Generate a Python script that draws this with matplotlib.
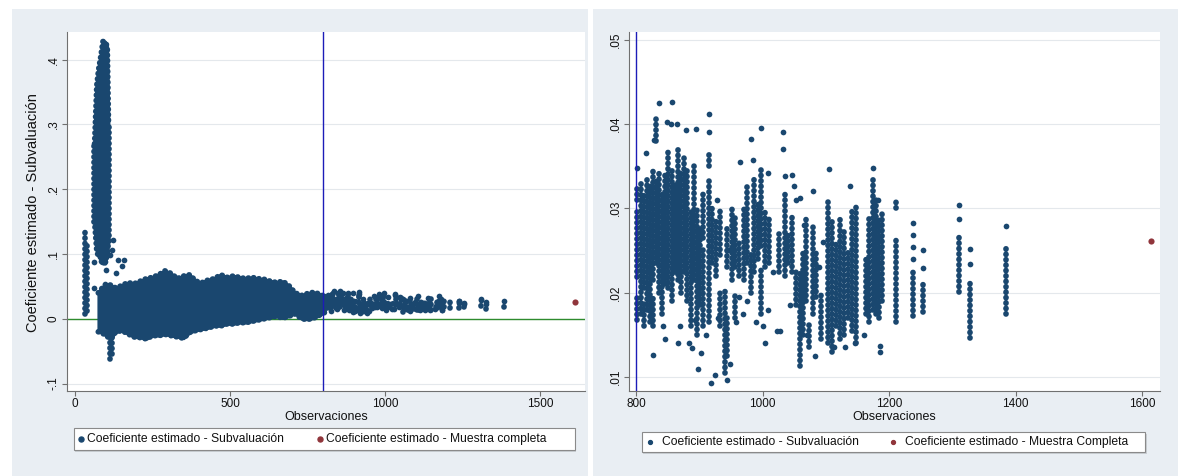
import numpy as np
import matplotlib
matplotlib.use("Agg")
import matplotlib.pyplot as plt
from matplotlib.patches import Rectangle
from matplotlib.lines import Line2D

plt.rcParams['font.family'] = ['Liberation Sans', 'DejaVu Sans']

# runs of estimates stacked at one sample size (obs, low coef, high coef)
col_x = [802, 802, 802, 807, 812, 812, 817, 822, 827, 827, 831, 831, 836, 841, 846, 851, 856, 861,
         866, 871, 876, 881, 886, 891, 896, 901, 906, 906, 916, 916, 920, 926, 932, 932, 940, 944, 944,
         951, 957, 957, 963, 970, 976, 981, 987, 993, 998, 998, 1004, 1010, 1026, 1035, 1040, 1047,
         1053, 1059, 1064, 1069, 1074, 1080, 1085, 1093, 1104, 1110, 1116, 1122, 1128, 1135, 1141,
         1148, 1163, 1168, 1174, 1179, 1184, 1189, 1211, 1211, 1237, 1254, 1310, 1327, 1384]
col_lo = [.0168, .0218, .0310, .0175, .0160, .0205, .0180, .0165, .0215, .0160, .0235, .0380, .0200, .0175,
          .0210, .0205, .0190, .0225, .0215, .0200, .0225, .0190, .0160, .0215, .0150, .0185, .0160, .0265,
          .0165, .0350, .0235, .0220, .0245, .0160, .0105, .0125, .0230, .0215, .0230, .0170, .0220, .0215,
          .0235, .0200, .0225, .0240, .0175, .0255, .0230, .0235, .0225, .0220, .0235, .0225, .0185, .0113,
          .0150, .0190, .0135, .0175, .0195, .0145, .0140, .0130, .0160, .0145, .0150, .0170, .0155, .0140,
          .0175, .0165, .0180, .0175, .0170, .0190, .0165, .0300, .0172, .0177, .0201, .0146, .0175]
col_hi = [.0200, .0296, .0326, .0330, .0190, .0320, .0335, .0330, .0345, .0195, .0335, .0410, .0345, .0320,
          .0340, .0370, .0345, .0330, .0375, .0345, .0365, .0345, .0300, .0355, .0300, .0280, .0250, .0320,
          .0335, .0365, .0300, .0285, .0300, .0200, .0205, .0170, .0280, .0300, .0290, .0200, .0260, .0300,
          .0330, .0250, .0340, .0310, .0230, .0350, .0300, .0290, .0270, .0318, .0270, .0290, .0225, .0227,
          .0250, .0290, .0165, .0280, .0250, .0200, .0310, .0290, .0260, .0290, .0275, .0250, .0300, .0305,
          .0240, .0290, .0340, .0310, .0290, .0295, .0265, .0312, .0226, .0210, .0266, .0216, .0258]

# loose single estimates
pt_x = [802, 815, 827, 829, 836, 843, 845, 849, 856, 855, 864, 866, 870, 879, 884, 889, 895, 898, 902,
        893, 910, 916, 916, 918, 924, 928, 930, 943, 948, 945, 958, 962, 964, 969, 975, 982, 985, 990,
        997, 1000, 1003, 1009, 1008, 1016, 1022, 1028, 1032, 1032, 1035, 1044, 1047, 1050, 1053, 1059,
        1066, 1070, 1080, 1082, 1089, 1095, 1105, 1113, 1130, 1138, 1146, 1160, 1175, 1182, 1185, 1185,
        1237, 1237, 1237, 1237, 1254, 1254, 1310, 1310, 1327, 1327, 1384]
pt_y = [.0348, .0366, .0126, .0381, .0425, .0160, .0145, .0402, .0426, .0400, .0400, .0140, .0160, .0393,
        .0140, .0134, .0394, .0110, .0128, .0168, .0150, .0390, .0412, .0093, .0102, .0310, .0170, .0096,
        .0115, .0250, .0165, .0195, .0355, .0175, .0190, .0382, .0357, .0165, .0395, .0160, .0140, .0342,
        .0180, .0225, .0155, .0155, .0390, .0370, .0338, .0185, .0340, .0326, .0310, .0312, .0280, .0150,
        .0320, .0125, .0230, .0260, .0346, .0135, .0135, .0326, .0140, .0150, .0348, .0310, .0137, .0130,
        .0282, .0268, .0254, .0240, .0250, .0229, .0304, .0287, .0252, .0234, .0279]

# dense cloud for small samples (left panel only): outline of the cloud
blob_x = [75, 85, 100, 115, 130, 150, 170, 190, 210, 230, 250, 270, 290, 310, 330, 350, 370, 390, 410,
          430, 450, 470, 490, 510, 530, 550, 570, 590, 610, 630, 650, 670, 690, 710, 730, 750, 770, 790, 806]
blob_top = [.040, .046, .054, .052, .048, .051, .056, .054, .058, .062, .064, .068, .074, .070, .062, .066,
            .068, .058, .056, .060, .062, .068, .064, .066, .064, .062, .064, .062, .061, .058, .056, .058,
            .051, .040, .036, .039, .041, .038, .034]
blob_bot = [-.020, -.021, -.026, -.031, -.021, -.018, -.023, -.028, -.029, -.031, -.026, -.026, -.024,
            -.026, -.028, -.030, -.021, -.018, -.016, -.014, -.011, -.011, -.008, -.008, -.006, -.006, -.004,
            -.002, .000, .002, .004, .001, .004, .008, .000, -.001, .001, .006, .010]

spike_x = [63, 70, 76, 83, 90, 97, 104, 108]
spike_top = [.27, .36, .385, .405, .428, .428, .420, .30]
spike_bot = [.15, .105, .095, .095, .085, .085, .100, .12]

small_x = [32, 39, 62, 108, 112, 118]
small_lo = [.008, .012, .15, .12, -.062, -.055]
small_hi = [.136, .120, .27, .30, -.020, -.025]
small_pt_x = [60, 62, 85, 100, 101, 112, 120, 121, 132, 140, 153, 158]
small_pt_y = [.047, .088, .090, .095, .075, .098, .106, .121, .070, .091, .081, .091]

full_x = [1614]
full_y = [.0261]
cutoff = 800

left_yticks = [-.1, 0, .1, .2, .3, .4]
left_ylabels = ['-.1', '0', '.1', '.2', '.3', '.4']
left_xticks = [0, 500, 1000, 1500]
right_yticks = [.01, .02, .03, .04, .05]
right_ylabels = ['.01', '.02', '.03', '.04', '.05']
right_xticks = [800, 1000, 1200, 1400, 1600]

navy = '#1a476f'
maroon = '#90353b'
W, H = 1178, 476
dot = 4.1          # marker diameter in points
beads = (0, (0.05, 0.9))   # round dashes that look like stacked markers

fig = plt.figure(figsize=(W / 100, H / 100), dpi=100)
fig.patch.set_facecolor('white')

# grey panel backgrounds
fig.add_artist(Rectangle((12 / W, 0), (588 - 12) / W, 1 - 9 / H, transform=fig.transFigure,
                         fc='#e9eef3', ec='none', zorder=-5))
fig.add_artist(Rectangle((593 / W, 0), (W - 593) / W, 1 - 9 / H, transform=fig.transFigure,
                         fc='#e9eef3', ec='none', zorder=-5))

axL = fig.add_axes([67 / W, 1 - 391 / H, (585 - 67) / W, (391 - 32) / H])
axR = fig.add_axes([629 / W, 1 - 391 / H, (1160 - 629) / W, (391 - 32) / H])

for ax in [axL, axR]:
    ax.set_facecolor('white')
    ax.spines['top'].set_visible(False)
    ax.spines['right'].set_visible(False)
    for s in ['left', 'bottom']:
        ax.spines[s].set_color('#707070')
        ax.spines[s].set_linewidth(0.8)
    ax.tick_params(direction='out', length=3.6, width=0.8, color='#707070', labelsize=8.5, pad=1.5,
                   labelcolor='#111111')
    ax.yaxis.grid(True, color='#e4e8ec', lw=0.8)
    ax.set_axisbelow(True)
    # runs and loose points
    ax.vlines(col_x, col_lo, col_hi, colors=navy, lw=dot, linestyles=[beads], capstyle='round', zorder=3)
    ax.scatter(pt_x, pt_y, s=dot ** 2, c=navy, linewidths=0, zorder=3)
    ax.scatter(full_x, full_y, s=dot ** 2 + 3, c=maroon, linewidths=0, zorder=3)
    ax.axvline(cutoff, color='#1c1cb8', lw=1, zorder=5)
    ax.set_xlabel('Observaciones', fontsize=9, color='#111111')
    ax.xaxis.set_label_coords(0.5, -0.055)

# left panel: all samples
for x, bot, top in [(blob_x, blob_bot, blob_top), (spike_x, spike_bot, spike_top)]:
    axL.fill_between(x, bot, top, color=navy, lw=2, joinstyle='round', zorder=3)
    axL.plot(x, top, color=navy, lw=dot, ls=beads, dash_capstyle='round', zorder=3)
    axL.plot(x, bot, color=navy, lw=dot, ls=beads, dash_capstyle='round', zorder=3)
axL.vlines(small_x, small_lo, small_hi, colors=navy, lw=dot, linestyles=[beads], capstyle='round', zorder=3)
axL.scatter(small_pt_x, small_pt_y, s=dot ** 2, c=navy, linewidths=0, zorder=3)
axL.axhline(0, color='#2e8b2e', lw=1, zorder=2)
axL.set_xlim(-26, 1645)
axL.set_ylim(-.1114, .4427)
axL.set_xticks(left_xticks)
axL.set_yticks(left_yticks)
axL.set_yticklabels(left_ylabels, rotation=90, va='center')

# right panel: zoom from the cutoff
axR.set_xlim(788.8, 1628)
axR.set_ylim(.00834, .0509)
axR.set_xticks(right_xticks)
axR.set_yticks(right_yticks)
axR.set_yticklabels(right_ylabels, rotation=90, va='center')

fig.text(32.6 / W, 1 - 213 / H, 'Coeficiente estimado - Subvaluación', rotation=90, ha='center',
         va='center', fontsize=10.5, color='#111111')

# legends under each panel
legends = [
    (73.6, 574.7, 427.7, 450, 3.6, [(80.5, 87, navy, 'Coeficiente estimado - Subvaluación'),
                                    (320, 326, maroon, 'Coeficiente estimado - Muestra completa')]),
    (641.6, 1145, 432, 452, 2.8, [(649.8, 662, navy, 'Coeficiente estimado - Subvaluación'),
                                  (892.7, 905, maroon, 'Coeficiente estimado - Muestra Completa')]),
]
for x0, x1, y0, y1, ms, entries in legends:
    fig.add_artist(Rectangle(((x0 + 1.5) / W, 1 - (y1 + 1.5) / H), (x1 - x0) / W, (y1 - y0) / H,
                             transform=fig.transFigure, fc='#c9ced3', ec='none', zorder=3))
    fig.add_artist(Rectangle((x0 / W, 1 - y1 / H), (x1 - x0) / W, (y1 - y0) / H,
                             transform=fig.transFigure, fc='white', ec='#8a8a8a', lw=0.8, zorder=4))
    ym = 1 - (y0 + y1) / 2 / H
    for mx, tx, color, label in entries:
        fig.add_artist(Line2D([mx / W], [ym], marker='o', ms=ms, color=color, ls='none',
                              transform=fig.transFigure, zorder=5))
        fig.text(tx / W, ym, label, ha='left', va='center', fontsize=8.7, color='#111111', zorder=5)

fig.savefig('out.png', dpi=100)
